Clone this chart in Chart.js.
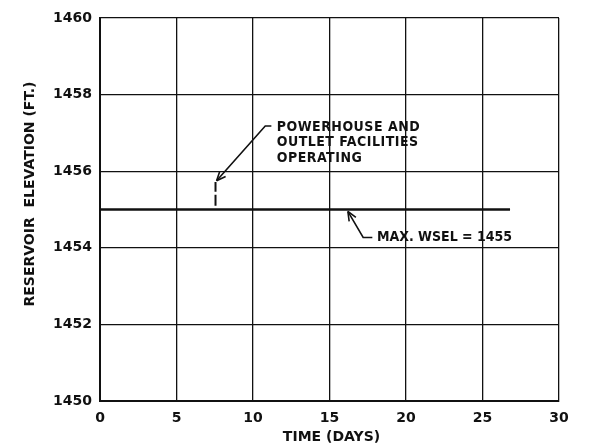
<!DOCTYPE html>
<html><head><meta charset="utf-8">
<script src="https://cdn.jsdelivr.net/npm/chart.js@4/dist/chart.umd.min.js"></script>
<style>html,body{margin:0;padding:0;background:#fff}canvas{display:block}</style>
</head><body><canvas id="c" width="593" height="447"></canvas>
<script>
// Axis ranges and tick labels
const xTicks = [0, 5, 10, 15, 20, 25, 30];
const yTicks = [1450, 1452, 1454, 1456, 1458, 1460];

// Maximum water surface elevation held over the period (ft)
const wselDays = [0, 26.8];
const wselElev = [1455, 1455];

// Short mark where powerhouse and outlet facilities begin operating
const plantDays = [7.55, 7.55];
const plantElev = [1455.1, 1455.72];

// Callout texts with their leader lines (day, elevation)
const plantLabel = ['POWERHOUSE AND', 'OUTLET FACILITIES', 'OPERATING'];
const plantLabelAt = [11.55, 1457.15];
const plantLeader = [[11.2, 1457.18], [10.8, 1457.18], [7.62, 1455.75]];

const wselLabel = ['MAX. WSEL = 1455'];
const wselLabelAt = [18.1, 1454.27];
const wselLeader = [[17.8, 1454.27], [17.2, 1454.27], [16.2, 1454.95]];

const INK = '#111';
const TITLE_FONT = 'bold 14px "DejaVu Sans"';
const NOTE_FONT = 'bold 14px "Liberation Sans Narrow", "DejaVu Sans Condensed", sans-serif';
const TICK_FONT = {family: 'DejaVu Sans', weight: 'bold', size: 14};

const toPts = (xs, ys) => xs.map((x, i) => ({x, y: ys[i]}));

const callouts = {
  id: 'callouts',
  afterDraw(chart) {
    const {ctx, scales: {x, y}, chartArea: a} = chart;
    const px = v => x.getPixelForValue(v), py = v => y.getPixelForValue(v);
    ctx.save();
    ctx.strokeStyle = INK; ctx.fillStyle = INK; ctx.lineWidth = 1.6;
    const leader = pts => {
      ctx.beginPath();
      pts.forEach((p, i) => i ? ctx.lineTo(px(p[0]), py(p[1])) : ctx.moveTo(px(p[0]), py(p[1])));
      ctx.stroke();
      const [p1, p2] = pts.slice(-2);
      const ex = px(p2[0]), ey = py(p2[1]);
      const ang = Math.atan2(ey - py(p1[1]), ex - px(p1[0]));
      ctx.beginPath();
      [-0.4, 0.4].forEach(d => {
        ctx.moveTo(ex, ey);
        ctx.lineTo(ex - 10 * Math.cos(ang + d), ey - 10 * Math.sin(ang + d));
      });
      ctx.stroke();
    };
    leader(plantLeader);
    leader(wselLeader);

    ctx.font = NOTE_FONT; ctx.textAlign = 'left'; ctx.textBaseline = 'middle';
    ctx.letterSpacing = '0.5px';
    plantLabel.forEach((t, i) => ctx.fillText(t, px(plantLabelAt[0]), py(plantLabelAt[1]) + i * 15.5));
    ctx.letterSpacing = '0px';
    wselLabel.forEach((t, i) => ctx.fillText(t, px(wselLabelAt[0]), py(wselLabelAt[1]) + i * 15.5));

    // Axis titles
    ctx.font = TITLE_FONT; ctx.textAlign = 'center';
    ctx.fillText('TIME (DAYS)', (a.left + a.right) / 2 + 2, 437);
    ctx.translate(30, 194);
    ctx.rotate(-Math.PI / 2);
    ctx.fillText('RESERVOIR  ELEVATION (FT.)', 0, 0);
    ctx.restore();
  }
};

new Chart(document.getElementById('c'), {
  type: 'scatter',
  data: {
    datasets: [
      {data: toPts(wselDays, wselElev), showLine: true, borderColor: INK, borderWidth: 2.6, pointRadius: 0},
      {data: toPts(plantDays, plantElev), showLine: true, borderColor: INK, borderWidth: 2, borderDash: [11, 3], pointRadius: 0}
    ]
  },
  options: {
    responsive: false, animation: false, devicePixelRatio: 1,
    layout: {padding: {top: 18, right: 34, left: 0, bottom: 0}},
    plugins: {legend: {display: false}, tooltip: {enabled: false}},
    scales: {
      x: {
        type: 'linear', min: xTicks[0], max: xTicks[xTicks.length - 1],
        afterBuildTicks: s => { s.ticks = xTicks.map(v => ({value: v})); },
        afterFit: s => { s.height = 46; },
        grid: {color: INK, lineWidth: 1.3, drawTicks: false},
        border: {color: INK, width: 2},
        ticks: {color: INK, font: TICK_FONT, padding: 9, maxRotation: 0, callback: v => String(v)}
      },
      y: {
        type: 'linear', min: yTicks[0], max: yTicks[yTicks.length - 1],
        afterBuildTicks: s => { s.ticks = yTicks.map(v => ({value: v})); },
        afterFit: s => { s.width = 100; },
        grid: {color: INK, lineWidth: 1.3, drawTicks: false},
        border: {color: INK, width: 2},
        ticks: {color: INK, font: TICK_FONT, padding: 8, callback: v => String(v)}
      }
    }
  },
  plugins: [callouts]
});
</script>
</body></html>
